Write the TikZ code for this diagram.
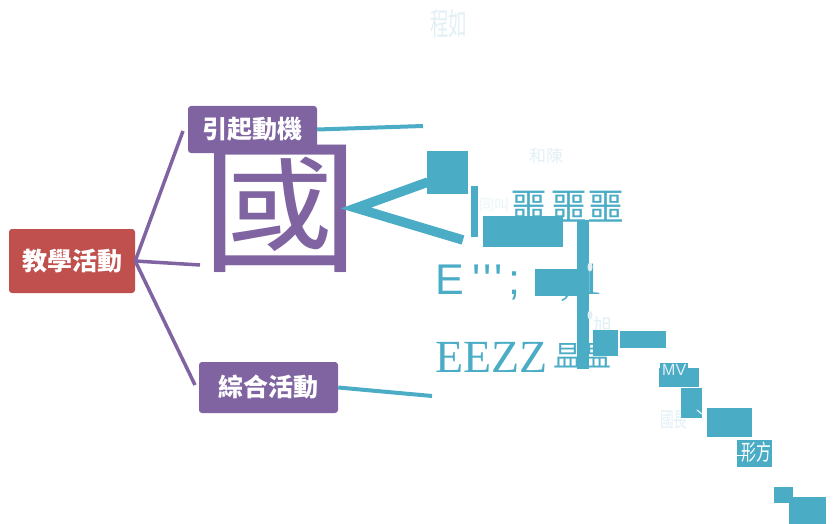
\documentclass[tikz,border=0pt]{standalone}
\usepackage{fontspec}
\newfontfamily\cjk{Noto Sans CJK TC}
\newfontfamily\lsans{Liberation Sans}
\newfontfamily\lserif{Liberation Serif}
\definecolor{teal5}{HTML}{4BACC6}
\definecolor{purp}{HTML}{8064A2}
\definecolor{redn}{HTML}{C0504D}
\definecolor{pale}{HTML}{E2F0F5}
\tikzset{
  box/.style={rounded corners=3pt, text=white, font=\cjk\bfseries\fontsize{25}{25}\selectfont, inner sep=0pt},
  pline/.style={draw=purp, line width=3.5pt},
  tline/.style={draw=teal5, line width=4pt},
  tblock/.style={fill=teal5},
  paletext/.style={text=pale, inner sep=0pt, anchor=north west},
  tealtext/.style={text=teal5, inner sep=0pt},
}
\begin{document}
\begin{tikzpicture}[x=1pt,y=-1pt]
\useasboundingbox (0,0) rectangle (835,524);
% pale texts
\node[paletext, xscale=0.6, font=\cjk\fontsize{31}{31}\selectfont] (t1) at (430,9) {程如};
\node[paletext, font=\cjk\fontsize{17}{17}\selectfont] (t2) at (529,148) {和陳};
\node[paletext, xscale=0.65, font=\cjk\fontsize{21}{21}\selectfont] (t3) at (660,410) {國長};
% coordinates for connector ends
\coordinate (p1) at (183,131);
\coordinate (p2) at (200,265);
\coordinate (p3) at (195,385);
\coordinate (q1) at (423,126);
\coordinate (q2) at (432,396);
% nodes
\node[box, fill=redn, minimum width=126pt, minimum height=64pt] (act) at (72,261) {教學活動};
\node[box, fill=purp, minimum width=129pt, minimum height=47pt] (mot) at (252.5,129.5) {\raisebox{1.5pt}{引起動機}};
\node[box, fill=purp, minimum width=139pt, minimum height=51pt] (syn) at (268.5,387.5) {綜合活動};
% purple connectors
\draw[pline] (act.east) -- (p1);
\draw[pline] (act.east) -- (p2);
\draw[pline] (act.east) -- (p3);
% teal connectors
\draw[tline] (mot.east) -- (q1);
\draw[tline] (syn.east) -- (q2);
% big glyph
\node[text=purp, inner sep=0pt, yscale=0.92, font=\cjk\fontsize{158}{158}\selectfont] (guo) at (280,209) {國};
% big <
\coordinate (la) at (428,182);
\coordinate (lb) at (356,208);
\coordinate (lc) at (463,240);
\draw[teal5, line width=9.5pt, line join=miter] (la) -- (lb) -- (lc);
% teal texts
\node[tealtext, anchor=west, font=\cjk\fontsize{37}{37}\selectfont] (g1) at (510,207) {噩\kern3pt噩噩};
\node[tealtext, anchor=base west, font=\lsans\fontsize{43}{43}\selectfont] (g2a) at (435,294) {E};
\node[tealtext, anchor=base west, font=\lsans\fontsize{43}{43}\selectfont] (g2b) at (472,294) {\char"0027\kern3pt\char"0027\kern3pt\char"0027\kern6pt;};
\node[tealtext, anchor=base west, font=\lserif\fontsize{46}{46}\selectfont] (g3) at (560,294) {,\,1};
\node[tealtext, anchor=base west, font=\lserif\fontsize{46}{46}\selectfont] (g4) at (435,372) {EEZZ};
\node[tealtext, anchor=west, font=\cjk\fontsize{29}{29}\selectfont] (g5) at (553,356) {昷昷};
% teal blocks
\fill[tblock] (427,151) rectangle (468,194);
\fill[tblock] (471,186) rectangle (478,237);
\node[paletext, font=\cjk\fontsize{15}{15}\selectfont, text=pale!70!white] (t4) at (479,198) {同叫};
\fill[tblock] (483,216) rectangle (563,247);
\fill[tblock] (535,269) rectangle (578,296);
\fill[tblock] (577,220) rectangle (589,369);
\fill[pale] (590,267) ellipse (2.5pt and 4.5pt);
\fill[pale] (590,315) ellipse (2.5pt and 4.5pt);
\node[paletext, font=\cjk\fontsize{19}{19}\selectfont] (t5) at (593,316) {旭};
\fill[tblock] (593,330) rectangle (618,356);
\fill[tblock] (620,331) rectangle (666,348);
\fill[tblock] (660,363) rectangle (688,387);
\fill[tblock] (659,368) rectangle (699,387);
\node[paletext, font=\lsans\fontsize{16}{16}\selectfont] (t6) at (662,364) {MV};
\fill[tblock] (681,388) rectangle (702,418);
\draw[pale, line width=1.2pt, line cap=round] (697,410) -- (702,414);
\fill[tblock] (707,408) rectangle (752,437);
\fill[tblock] (737,440) rectangle (772,467);
\node[paletext, xscale=0.68, text=white, font=\cjk\fontsize{22}{22}\selectfont] (t8) at (741,442) {形方};
\draw[white, line width=1pt] (737,455) -- (748,455);
\fill[tblock] (774,487) rectangle (793,503);
\fill[tblock] (789,497) rectangle (826,524);
\end{tikzpicture}
\end{document}
